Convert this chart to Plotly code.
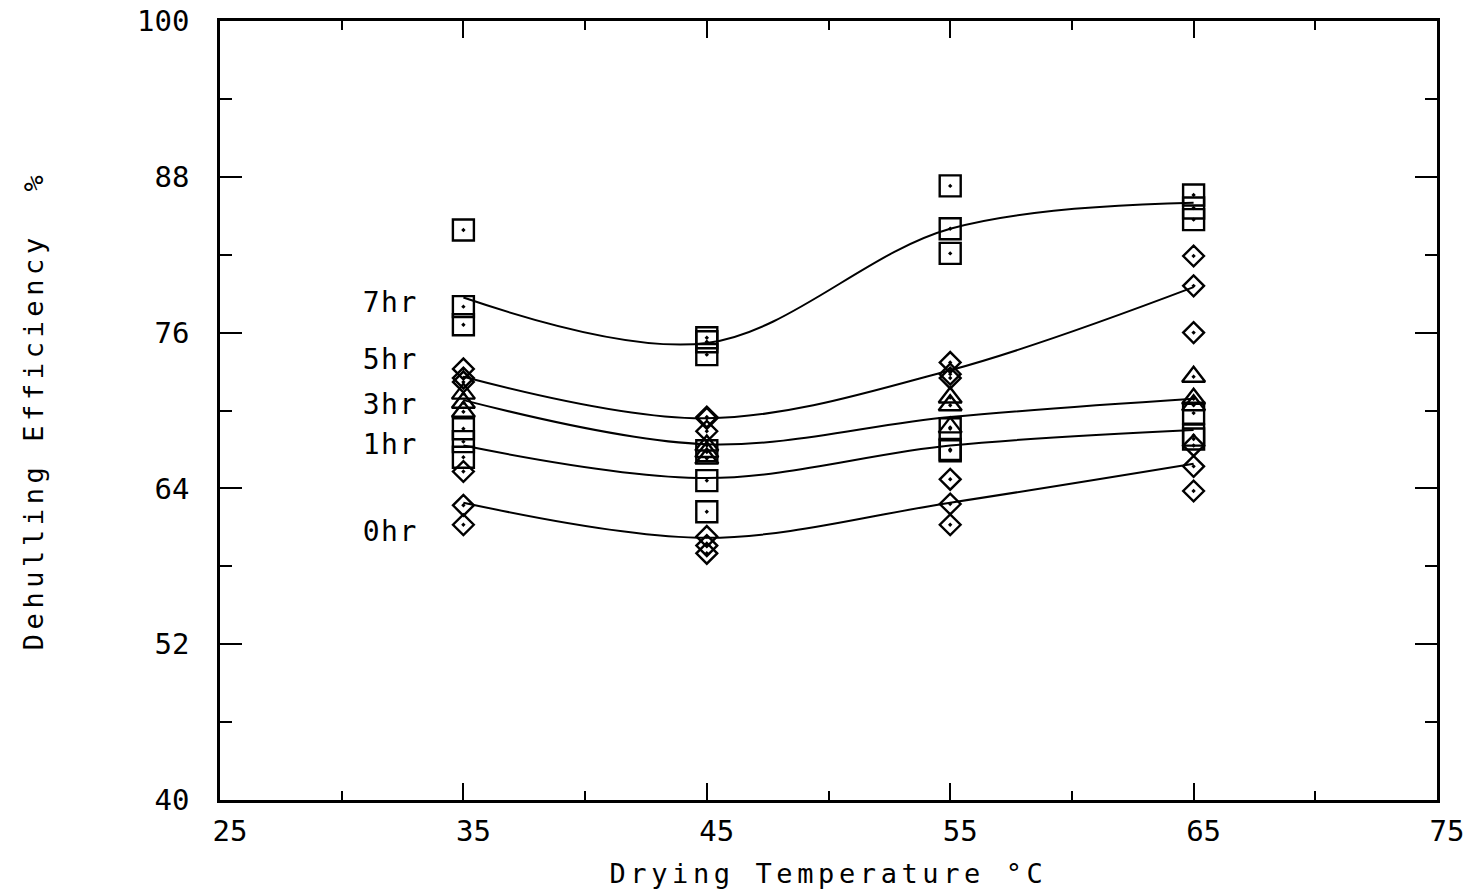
import plotly.graph_objects as go

# Drying temperatures (deg C)
temps = [35, 45, 55, 65]

# Replicate dehulling efficiencies (%) at each temperature, per soaking time
obs_7hr = [[83.9, 78.0, 76.6], [75.6, 75.3, 74.3], [87.3, 84.0, 82.1], [86.6, 85.6, 84.7]]
obs_5hr = [[73.2, 72.5, 72.2], [69.5, 69.4, 68.4], [73.7, 72.8, 72.5], [81.9, 79.6, 76.0]]
obs_3hr = [[71.3, 70.6, 69.9], [67.3, 66.8, 66.3], [71.0, 70.4, 68.7], [72.6, 70.9, 70.4]]
obs_1hr = [[68.6, 67.6, 66.4], [66.9, 64.6, 62.2], [68.6, 67.0, 66.9], [69.8, 68.1, 67.8]]
obs_0hr = [[65.3, 62.7, 61.2], [60.3, 59.6, 59.0], [64.7, 62.8, 61.2], [67.3, 65.7, 63.8]]

# Fitted curve values at each temperature
fit_7hr = [78.7, 75.2, 84.0, 86.0]
fit_5hr = [72.6, 69.4, 73.1, 79.5]
fit_3hr = [70.8, 67.4, 69.5, 70.9]
fit_1hr = [67.3, 64.8, 67.3, 68.5]
fit_0hr = [62.9, 60.2, 62.9, 65.9]

series_names = ["7hr", "5hr", "3hr", "1hr", "0hr"]
series_obs = [obs_7hr, obs_5hr, obs_3hr, obs_1hr, obs_0hr]
series_fit = [fit_7hr, fit_5hr, fit_3hr, fit_1hr, fit_0hr]
# curve-label heights (% axis) beside the 35 deg C column
label_y = [78.35, 73.9, 70.5, 67.4, 60.7]

x_ticks = [25, 35, 45, 55, 65, 75]
y_ticks = [40, 52, 64, 76, 88, 100]

symbols = {
    "7hr": ("square-open-dot", 21),
    "5hr": ("diamond-open-dot", 16),
    "3hr": ("triangle-up-open-dot", 20),
    "1hr": ("square-open-dot", 21),
    "0hr": ("diamond-open-dot", 16),
}

FONT = "DejaVu Sans Mono"
fig = go.Figure()

for name, obs, fit in zip(series_names, series_obs, series_fit):
    xs, ys = [], []
    for t, reps in zip(temps, obs):
        for v in reps:
            xs.append(t)
            ys.append(v)
    sym, size = symbols[name]
    fig.add_trace(go.Scatter(
        x=xs, y=ys, mode="markers", name=name, showlegend=False,
        marker=dict(symbol=sym, size=size, color="black",
                    line=dict(color="black", width=2.4)),
    ))
    fig.add_trace(go.Scatter(
        x=temps, y=fit, mode="lines", name=name + " fit", showlegend=False,
        line=dict(color="black", width=2, shape="spline", smoothing=1.0),
    ))

for name, ly in zip(series_names, label_y):
    fig.add_annotation(
        x=33.15, y=ly, xref="x", yref="y", text=name, showarrow=False,
        xanchor="right", yanchor="middle",
        font=dict(family=FONT, size=28, color="black"),
    )

axis_common = dict(
    showgrid=False, zeroline=False, showline=True, linecolor="black",
    linewidth=2.5, mirror="ticks", ticks="inside", tickcolor="black",
    tickwidth=2, tickfont=dict(family=FONT, size=29, color="black"),
    automargin=False,
)

fig.update_xaxes(
    range=[25, 75], tickmode="array", tickvals=x_ticks,
    ticktext=[str(v) for v in x_ticks], ticklen=17,
    minor=dict(ticks="inside", dtick=5, tick0=25, ticklen=9,
               tickwidth=2, tickcolor="black"),
    ticklabelshift=10, ticklabelstandoff=3,
    title=dict(text="Drying Temperature °C",
               font=dict(family=FONT, size=27, color="black"), standoff=18),
    **axis_common,
)
fig.update_yaxes(
    range=[40, 100], tickmode="array", tickvals=y_ticks,
    ticktext=[str(v) for v in y_ticks], ticklen=22,
    minor=dict(ticks="inside", dtick=6, tick0=40, ticklen=12,
               tickwidth=2, tickcolor="black"),
    ticklabelstandoff=22,
    title=dict(text="Dehulling Efficiency  %",
               font=dict(family=FONT, size=27, color="black"), standoff=86),
    **axis_common,
)

fig.update_layout(
    width=1476, height=894,
    margin=dict(l=220, r=39, t=21, b=94),
    paper_bgcolor="white", plot_bgcolor="white",
)

# plotter-style wide letter spacing for titles and curve labels
spacing_js = (
    "document.querySelectorAll('.xtitle, .ytitle').forEach(function(t){"
    "t.style.letterSpacing='4.6px';});"
    "document.querySelectorAll('.annotation-text').forEach(function(t){"
    "t.style.letterSpacing='1.5px';});"
)

fig.write_html("out.html", post_script=spacing_js)
